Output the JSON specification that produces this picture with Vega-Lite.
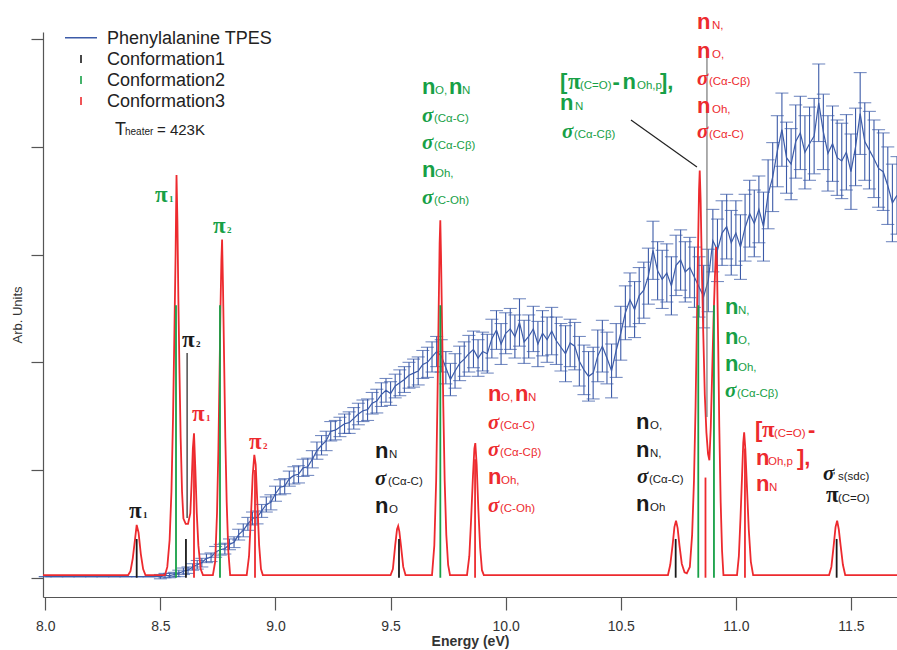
{
  "$schema": "https://vega.github.io/schema/vega-lite/v6.json",
  "width": 854,
  "height": 565,
  "autosize": {"type": "none"},
  "padding": {"left": 43, "top": 32, "right": 0, "bottom": 53},
  "background": "white",
  "config": {"view": {"stroke": null}, "font": "Liberation Sans"},
  "datasets": {
    "tpes": [
      {"E": 8.00, "I": 0.01, "err": 0}, {"E": 8.05, "I": 0.01, "err": 0}, {"E": 8.10, "I": 0.01, "err": 0},
      {"E": 8.15, "I": 0.01, "err": 0}, {"E": 8.20, "I": 0.01, "err": 0}, {"E": 8.25, "I": 0.01, "err": 0},
      {"E": 8.30, "I": 0.01, "err": 0}, {"E": 8.35, "I": 0.01, "err": 0}, {"E": 8.40, "I": 0.01, "err": 0},
      {"E": 8.45, "I": 0.01, "err": 0},
      {"E": 8.50, "I": 0.01, "err": 0.02}, {"E": 8.52, "I": 0.02, "err": 0.02}, {"E": 8.54, "I": 0.02, "err": 0.02},
      {"E": 8.56, "I": 0.03, "err": 0.02}, {"E": 8.58, "I": 0.04, "err": 0.03}, {"E": 8.60, "I": 0.06, "err": 0.03},
      {"E": 8.62, "I": 0.07, "err": 0.03}, {"E": 8.64, "I": 0.10, "err": 0.03}, {"E": 8.66, "I": 0.12, "err": 0.04},
      {"E": 8.68, "I": 0.14, "err": 0.04}, {"E": 8.70, "I": 0.18, "err": 0.04}, {"E": 8.72, "I": 0.19, "err": 0.04},
      {"E": 8.74, "I": 0.24, "err": 0.05}, {"E": 8.76, "I": 0.26, "err": 0.05}, {"E": 8.78, "I": 0.27, "err": 0.05},
      {"E": 8.80, "I": 0.31, "err": 0.05}, {"E": 8.82, "I": 0.33, "err": 0.05}, {"E": 8.84, "I": 0.40, "err": 0.05},
      {"E": 8.86, "I": 0.44, "err": 0.06}, {"E": 8.88, "I": 0.50, "err": 0.06}, {"E": 8.90, "I": 0.55, "err": 0.06},
      {"E": 8.92, "I": 0.56, "err": 0.06}, {"E": 8.94, "I": 0.62, "err": 0.06}, {"E": 8.96, "I": 0.68, "err": 0.07},
      {"E": 8.98, "I": 0.70, "err": 0.07}, {"E": 9.00, "I": 0.78, "err": 0.07}, {"E": 9.02, "I": 0.84, "err": 0.07},
      {"E": 9.04, "I": 0.85, "err": 0.07}, {"E": 9.06, "I": 0.92, "err": 0.07}, {"E": 9.08, "I": 0.95, "err": 0.08},
      {"E": 9.10, "I": 0.96, "err": 0.08}, {"E": 9.12, "I": 1.02, "err": 0.08}, {"E": 9.14, "I": 1.03, "err": 0.08},
      {"E": 9.16, "I": 1.10, "err": 0.08}, {"E": 9.18, "I": 1.18, "err": 0.08}, {"E": 9.20, "I": 1.23, "err": 0.09},
      {"E": 9.22, "I": 1.27, "err": 0.09}, {"E": 9.24, "I": 1.36, "err": 0.09}, {"E": 9.26, "I": 1.37, "err": 0.09},
      {"E": 9.28, "I": 1.40, "err": 0.09}, {"E": 9.30, "I": 1.43, "err": 0.09}, {"E": 9.32, "I": 1.44, "err": 0.10},
      {"E": 9.34, "I": 1.48, "err": 0.10}, {"E": 9.36, "I": 1.52, "err": 0.10}, {"E": 9.38, "I": 1.55, "err": 0.10},
      {"E": 9.40, "I": 1.56, "err": 0.10}, {"E": 9.42, "I": 1.62, "err": 0.10}, {"E": 9.44, "I": 1.64, "err": 0.11},
      {"E": 9.46, "I": 1.70, "err": 0.11}, {"E": 9.48, "I": 1.74, "err": 0.11}, {"E": 9.50, "I": 1.71, "err": 0.11},
      {"E": 9.52, "I": 1.78, "err": 0.11}, {"E": 9.54, "I": 1.81, "err": 0.12}, {"E": 9.56, "I": 1.84, "err": 0.12},
      {"E": 9.58, "I": 1.88, "err": 0.12}, {"E": 9.60, "I": 1.90, "err": 0.13}, {"E": 9.62, "I": 1.92, "err": 0.13},
      {"E": 9.64, "I": 1.98, "err": 0.13}, {"E": 9.66, "I": 2.00, "err": 0.14}, {"E": 9.68, "I": 2.05, "err": 0.14},
      {"E": 9.70, "I": 2.10, "err": 0.14}, {"E": 9.72, "I": 2.06, "err": 0.15}, {"E": 9.74, "I": 1.95, "err": 0.15},
      {"E": 9.76, "I": 1.84, "err": 0.15}, {"E": 9.78, "I": 1.92, "err": 0.16}, {"E": 9.80, "I": 1.99, "err": 0.16},
      {"E": 9.82, "I": 2.03, "err": 0.16}, {"E": 9.84, "I": 2.08, "err": 0.17}, {"E": 9.86, "I": 2.12, "err": 0.17},
      {"E": 9.88, "I": 2.04, "err": 0.17}, {"E": 9.90, "I": 2.10, "err": 0.18}, {"E": 9.92, "I": 2.08, "err": 0.18},
      {"E": 9.94, "I": 2.22, "err": 0.18}, {"E": 9.96, "I": 2.30, "err": 0.18}, {"E": 9.98, "I": 2.17, "err": 0.19},
      {"E": 10.00, "I": 2.27, "err": 0.19}, {"E": 10.02, "I": 2.31, "err": 0.19}, {"E": 10.04, "I": 2.24, "err": 0.20},
      {"E": 10.06, "I": 2.37, "err": 0.22}, {"E": 10.08, "I": 2.19, "err": 0.20}, {"E": 10.10, "I": 2.24, "err": 0.20},
      {"E": 10.12, "I": 2.31, "err": 0.21}, {"E": 10.14, "I": 2.17, "err": 0.21}, {"E": 10.16, "I": 2.27, "err": 0.21},
      {"E": 10.18, "I": 2.21, "err": 0.21}, {"E": 10.20, "I": 2.29, "err": 0.22}, {"E": 10.22, "I": 2.20, "err": 0.22},
      {"E": 10.24, "I": 2.14, "err": 0.22}, {"E": 10.26, "I": 2.08, "err": 0.26}, {"E": 10.28, "I": 2.18, "err": 0.22},
      {"E": 10.30, "I": 2.15, "err": 0.22}, {"E": 10.32, "I": 2.01, "err": 0.23}, {"E": 10.34, "I": 1.93, "err": 0.23},
      {"E": 10.36, "I": 1.87, "err": 0.23}, {"E": 10.38, "I": 1.90, "err": 0.24}, {"E": 10.40, "I": 2.06, "err": 0.24},
      {"E": 10.42, "I": 2.15, "err": 0.24}, {"E": 10.44, "I": 2.04, "err": 0.24}, {"E": 10.46, "I": 1.92, "err": 0.25},
      {"E": 10.48, "I": 2.11, "err": 0.25}, {"E": 10.50, "I": 2.27, "err": 0.25}, {"E": 10.52, "I": 2.46, "err": 0.25},
      {"E": 10.54, "I": 2.58, "err": 0.25}, {"E": 10.56, "I": 2.49, "err": 0.26}, {"E": 10.58, "I": 2.62, "err": 0.26},
      {"E": 10.60, "I": 2.67, "err": 0.26}, {"E": 10.62, "I": 2.80, "err": 0.26}, {"E": 10.64, "I": 3.04, "err": 0.27},
      {"E": 10.66, "I": 2.85, "err": 0.27}, {"E": 10.68, "I": 2.77, "err": 0.27}, {"E": 10.70, "I": 2.83, "err": 0.27},
      {"E": 10.72, "I": 2.71, "err": 0.27}, {"E": 10.74, "I": 2.90, "err": 0.28}, {"E": 10.76, "I": 2.95, "err": 0.28},
      {"E": 10.78, "I": 2.84, "err": 0.28}, {"E": 10.80, "I": 2.88, "err": 0.28}, {"E": 10.82, "I": 2.79, "err": 0.28},
      {"E": 10.84, "I": 2.70, "err": 0.28}, {"E": 10.86, "I": 2.61, "err": 0.29}, {"E": 10.88, "I": 2.76, "err": 0.29},
      {"E": 10.90, "I": 3.13, "err": 0.29}, {"E": 10.92, "I": 3.04, "err": 0.29}, {"E": 10.94, "I": 3.20, "err": 0.30},
      {"E": 10.96, "I": 3.26, "err": 0.30}, {"E": 10.98, "I": 3.11, "err": 0.30}, {"E": 11.00, "I": 3.20, "err": 0.30},
      {"E": 11.02, "I": 3.07, "err": 0.30}, {"E": 11.04, "I": 3.25, "err": 0.31}, {"E": 11.06, "I": 3.38, "err": 0.31},
      {"E": 11.08, "I": 3.29, "err": 0.31}, {"E": 11.10, "I": 3.42, "err": 0.31}, {"E": 11.12, "I": 3.26, "err": 0.32},
      {"E": 11.14, "I": 3.56, "err": 0.32}, {"E": 11.16, "I": 3.72, "err": 0.32}, {"E": 11.18, "I": 3.96, "err": 0.33},
      {"E": 11.20, "I": 4.16, "err": 0.34}, {"E": 11.22, "I": 3.90, "err": 0.33}, {"E": 11.24, "I": 3.84, "err": 0.33},
      {"E": 11.26, "I": 4.05, "err": 0.34}, {"E": 11.28, "I": 4.13, "err": 0.34}, {"E": 11.30, "I": 3.95, "err": 0.34},
      {"E": 11.32, "I": 4.03, "err": 0.34}, {"E": 11.34, "I": 4.10, "err": 0.35}, {"E": 11.36, "I": 4.41, "err": 0.36},
      {"E": 11.38, "I": 4.14, "err": 0.35}, {"E": 11.40, "I": 3.94, "err": 0.35}, {"E": 11.42, "I": 4.03, "err": 0.35},
      {"E": 11.44, "I": 3.90, "err": 0.35}, {"E": 11.46, "I": 3.87, "err": 0.35}, {"E": 11.48, "I": 3.95, "err": 0.35},
      {"E": 11.50, "I": 3.77, "err": 0.35}, {"E": 11.52, "I": 4.00, "err": 0.36}, {"E": 11.54, "I": 4.31, "err": 0.38},
      {"E": 11.56, "I": 4.05, "err": 0.36}, {"E": 11.58, "I": 3.97, "err": 0.36}, {"E": 11.60, "I": 3.89, "err": 0.36},
      {"E": 11.62, "I": 3.80, "err": 0.36}, {"E": 11.64, "I": 3.77, "err": 0.36}, {"E": 11.66, "I": 3.64, "err": 0.36},
      {"E": 11.68, "I": 3.48, "err": 0.36}, {"E": 11.70, "I": 3.55, "err": 0.36}
    ],
    "model": [
      {"E": 7.99, "I": 0.025}, {"E": 8.36, "I": 0.025}, {"E": 8.37, "I": 0.06}, {"E": 8.38, "I": 0.18},
      {"E": 8.39, "I": 0.36}, {"E": 8.397, "I": 0.49}, {"E": 8.405, "I": 0.42}, {"E": 8.415, "I": 0.22},
      {"E": 8.425, "I": 0.08}, {"E": 8.435, "I": 0.025}, {"E": 8.52, "I": 0.025}, {"E": 8.53, "I": 0.1},
      {"E": 8.54, "I": 0.35}, {"E": 8.548, "I": 0.8}, {"E": 8.555, "I": 1.5}, {"E": 8.561, "I": 2.3},
      {"E": 8.566, "I": 3.0}, {"E": 8.570, "I": 3.74}, {"E": 8.574, "I": 3.3}, {"E": 8.578, "I": 2.6},
      {"E": 8.583, "I": 1.9}, {"E": 8.588, "I": 1.3}, {"E": 8.594, "I": 0.8}, {"E": 8.600, "I": 0.55},
      {"E": 8.610, "I": 0.5}, {"E": 8.620, "I": 0.5}, {"E": 8.630, "I": 0.6}, {"E": 8.636, "I": 0.9},
      {"E": 8.641, "I": 1.2}, {"E": 8.646, "I": 1.34}, {"E": 8.652, "I": 1.0}, {"E": 8.658, "I": 0.6},
      {"E": 8.665, "I": 0.3}, {"E": 8.675, "I": 0.08}, {"E": 8.685, "I": 0.025}, {"E": 8.728, "I": 0.025},
      {"E": 8.738, "I": 0.15}, {"E": 8.746, "I": 0.6}, {"E": 8.752, "I": 1.2}, {"E": 8.757, "I": 1.9},
      {"E": 8.761, "I": 2.5}, {"E": 8.765, "I": 2.95}, {"E": 8.768, "I": 3.14}, {"E": 8.772, "I": 2.7},
      {"E": 8.777, "I": 2.0}, {"E": 8.782, "I": 1.3}, {"E": 8.788, "I": 0.7}, {"E": 8.795, "I": 0.25},
      {"E": 8.803, "I": 0.025}, {"E": 8.875, "I": 0.025}, {"E": 8.885, "I": 0.2}, {"E": 8.893, "I": 0.55},
      {"E": 8.901, "I": 0.95}, {"E": 8.908, "I": 1.14}, {"E": 8.914, "I": 1.05}, {"E": 8.921, "I": 0.7},
      {"E": 8.929, "I": 0.3}, {"E": 8.937, "I": 0.08}, {"E": 8.945, "I": 0.025}, {"E": 9.50, "I": 0.025},
      {"E": 9.51, "I": 0.08}, {"E": 9.52, "I": 0.3}, {"E": 9.528, "I": 0.45}, {"E": 9.533, "I": 0.48},
      {"E": 9.538, "I": 0.43}, {"E": 9.545, "I": 0.3}, {"E": 9.555, "I": 0.1}, {"E": 9.565, "I": 0.025},
      {"E": 9.68, "I": 0.025}, {"E": 9.69, "I": 0.3}, {"E": 9.698, "I": 0.9}, {"E": 9.704, "I": 1.7},
      {"E": 9.709, "I": 2.5}, {"E": 9.713, "I": 3.1}, {"E": 9.716, "I": 3.32}, {"E": 9.719, "I": 3.0},
      {"E": 9.724, "I": 2.3}, {"E": 9.729, "I": 1.6}, {"E": 9.735, "I": 0.9}, {"E": 9.742, "I": 0.4},
      {"E": 9.75, "I": 0.12}, {"E": 9.758, "I": 0.025}, {"E": 9.832, "I": 0.025}, {"E": 9.842, "I": 0.2},
      {"E": 9.85, "I": 0.55}, {"E": 9.858, "I": 0.95}, {"E": 9.864, "I": 1.2}, {"E": 9.868, "I": 1.25},
      {"E": 9.874, "I": 1.05}, {"E": 9.881, "I": 0.65}, {"E": 9.889, "I": 0.28}, {"E": 9.897, "I": 0.07},
      {"E": 9.905, "I": 0.025}, {"E": 10.705, "I": 0.025}, {"E": 10.715, "I": 0.12}, {"E": 10.725, "I": 0.3},
      {"E": 10.733, "I": 0.47}, {"E": 10.74, "I": 0.53}, {"E": 10.747, "I": 0.46}, {"E": 10.755, "I": 0.3},
      {"E": 10.765, "I": 0.13}, {"E": 10.777, "I": 0.05}, {"E": 10.787, "I": 0.04}, {"E": 10.80, "I": 0.1},
      {"E": 10.81, "I": 0.4}, {"E": 10.818, "I": 0.9}, {"E": 10.825, "I": 1.6}, {"E": 10.831, "I": 2.4},
      {"E": 10.836, "I": 3.1}, {"E": 10.84, "I": 3.6}, {"E": 10.843, "I": 3.78}, {"E": 10.847, "I": 3.5},
      {"E": 10.852, "I": 2.9}, {"E": 10.858, "I": 2.3}, {"E": 10.865, "I": 1.7}, {"E": 10.872, "I": 1.35},
      {"E": 10.879, "I": 1.15}, {"E": 10.885, "I": 1.09}, {"E": 10.891, "I": 1.4}, {"E": 10.897, "I": 1.9},
      {"E": 10.903, "I": 2.4}, {"E": 10.909, "I": 2.8}, {"E": 10.914, "I": 3.07}, {"E": 10.918, "I": 2.9},
      {"E": 10.923, "I": 2.2}, {"E": 10.928, "I": 1.4}, {"E": 10.934, "I": 0.7}, {"E": 10.94, "I": 0.25},
      {"E": 10.946, "I": 0.025}, {"E": 11.005, "I": 0.025}, {"E": 11.013, "I": 0.2}, {"E": 11.02, "I": 0.55},
      {"E": 11.027, "I": 0.95}, {"E": 11.032, "I": 1.25}, {"E": 11.036, "I": 1.35}, {"E": 11.041, "I": 1.2},
      {"E": 11.048, "I": 0.85}, {"E": 11.056, "I": 0.45}, {"E": 11.065, "I": 0.15}, {"E": 11.075, "I": 0.025},
      {"E": 11.405, "I": 0.025}, {"E": 11.415, "I": 0.1}, {"E": 11.425, "I": 0.3}, {"E": 11.433, "I": 0.47},
      {"E": 11.44, "I": 0.53}, {"E": 11.447, "I": 0.45}, {"E": 11.455, "I": 0.3}, {"E": 11.465, "I": 0.12},
      {"E": 11.475, "I": 0.025}, {"E": 11.70, "I": 0.025}
    ],
    "sticks": [
      {"E": 8.646, "I": 1.2, "conf": "c3"}, {"E": 8.911, "I": 1.0, "conf": "c3"}, {"E": 9.867, "I": 1.1, "conf": "c3"},
      {"E": 10.868, "I": 0.93, "conf": "c3"}, {"E": 11.0395, "I": 1.2, "conf": "c3"},
      {"E": 8.5678, "I": 2.53, "conf": "c2"}, {"E": 8.7589, "I": 2.53, "conf": "c2"}, {"E": 9.7161, "I": 2.53, "conf": "c2"},
      {"E": 10.8367, "I": 2.53, "conf": "c2"}, {"E": 10.9048, "I": 2.53, "conf": "c2"},
      {"E": 8.397, "I": 0.36, "conf": "c1"}, {"E": 8.611, "I": 0.36, "conf": "c1"}, {"E": 9.5365, "I": 0.36, "conf": "c1"},
      {"E": 10.7385, "I": 0.36, "conf": "c1"}, {"E": 11.4378, "I": 0.36, "conf": "c1"}
    ],
    "guides": [
      {"E": 8.616, "I": 2.087, "E2": 8.616, "I2": 0.554, "conf": "ink"},
      {"E": 10.5443, "I": 4.2497, "E2": 10.831, "I2": 3.8133, "conf": "ink"},
      {"E": 10.8744, "I": 4.9179, "E2": 10.8744, "I2": 1.4921, "conf": "grey"}
    ],
    "key": [
      {"E": 8.0856, "I": 5.0139, "E2": 8.2246, "I2": 5.0139, "conf": "tpes"},
      {"E": 8.1551, "I": 4.779, "E2": 8.1551, "I2": 4.8533, "conf": "c1"},
      {"E": 8.1551, "I": 4.584, "E2": 8.1551, "I2": 4.6583, "conf": "c2"},
      {"E": 8.1551, "I": 4.389, "E2": 8.1551, "I2": 4.4633, "conf": "c3"}
    ],
    "notes": [
      {"E": 8.3636, "I": 0.5543, "t": "π", "conf": "c1", "role": "pi"},
      {"E": 8.4244, "I": 0.5543, "t": "1", "conf": "c1", "role": "pisub"},
      {"E": 8.5938, "I": 2.142, "t": "π", "conf": "c1", "role": "pi"},
      {"E": 8.6546, "I": 2.142, "t": "2", "conf": "c1", "role": "pisub"},
      {"E": 8.4765, "I": 3.4884, "t": "π", "conf": "c2", "role": "pi"},
      {"E": 8.5373, "I": 3.4884, "t": "1", "conf": "c2", "role": "pisub"},
      {"E": 8.7285, "I": 3.2005, "t": "π", "conf": "c2", "role": "pi"},
      {"E": 8.7893, "I": 3.2005, "t": "2", "conf": "c2", "role": "pisub"},
      {"E": 8.6373, "I": 1.455, "t": "π", "conf": "c3", "role": "pi"},
      {"E": 8.6981, "I": 1.455, "t": "1", "conf": "c3", "role": "pisub"},
      {"E": 8.8849, "I": 1.195, "t": "π", "conf": "c3", "role": "pi"},
      {"E": 8.9457, "I": 1.195, "t": "2", "conf": "c3", "role": "pisub"},

      {"E": 9.4322, "I": 1.1114, "t": "n", "conf": "c1", "role": "n"},
      {"E": 9.493, "I": 1.1114, "t": "N", "conf": "c1", "role": "sub"},
      {"E": 9.4322, "I": 0.8607, "t": "σ", "conf": "c1", "role": "sigma"},
      {"E": 9.4887, "I": 0.8607, "t": "(Cα-C)", "conf": "c1", "role": "sub"},
      {"E": 9.4322, "I": 0.6007, "t": "n", "conf": "c1", "role": "n"},
      {"E": 9.493, "I": 0.6007, "t": "O", "conf": "c1", "role": "sub"},

      {"E": 9.6364, "I": 4.4911, "t": "n", "conf": "c2", "role": "n"},
      {"E": 9.6928, "I": 4.4911, "t": "O,", "conf": "c2", "role": "sub"},
      {"E": 9.7537, "I": 4.4911, "t": "n", "conf": "c2", "role": "n"},
      {"E": 9.8102, "I": 4.4911, "t": "N", "conf": "c2", "role": "sub"},
      {"E": 9.6364, "I": 4.2312, "t": "σ", "conf": "c2", "role": "sigma"},
      {"E": 9.6885, "I": 4.2312, "t": "(Cα-C)", "conf": "c2", "role": "sub"},
      {"E": 9.6364, "I": 3.9805, "t": "σ", "conf": "c2", "role": "sigma"},
      {"E": 9.6885, "I": 3.9805, "t": "(Cα-Cβ)", "conf": "c2", "role": "sub"},
      {"E": 9.6364, "I": 3.7205, "t": "n", "conf": "c2", "role": "n"},
      {"E": 9.6928, "I": 3.7205, "t": "Oh,", "conf": "c2", "role": "sub"},
      {"E": 9.6364, "I": 3.4698, "t": "σ", "conf": "c2", "role": "sigma"},
      {"E": 9.6885, "I": 3.4698, "t": "(C-Oh)", "conf": "c2", "role": "sub"},

      {"E": 9.9231, "I": 1.6407, "t": "n", "conf": "c3", "role": "n"},
      {"E": 9.9796, "I": 1.6407, "t": "O,", "conf": "c3", "role": "sub"},
      {"E": 10.0404, "I": 1.6407, "t": "n", "conf": "c3", "role": "n"},
      {"E": 10.0968, "I": 1.6407, "t": "N", "conf": "c3", "role": "sub"},
      {"E": 9.9231, "I": 1.3807, "t": "σ", "conf": "c3", "role": "sigma"},
      {"E": 9.9752, "I": 1.3807, "t": "(Cα-C)", "conf": "c3", "role": "sub"},
      {"E": 9.9231, "I": 1.13, "t": "σ", "conf": "c3", "role": "sigma"},
      {"E": 9.9752, "I": 1.13, "t": "(Cα-Cβ)", "conf": "c3", "role": "sub"},
      {"E": 9.9231, "I": 0.87, "t": "n", "conf": "c3", "role": "n"},
      {"E": 9.9796, "I": 0.87, "t": "Oh,", "conf": "c3", "role": "sub"},
      {"E": 9.9231, "I": 0.61, "t": "σ", "conf": "c3", "role": "sigma"},
      {"E": 9.9752, "I": 0.61, "t": "(C-Oh)", "conf": "c3", "role": "sub"},

      {"E": 10.2358, "I": 4.5376, "t": "[", "conf": "c2", "role": "n"},
      {"E": 10.2706, "I": 4.5376, "t": "π", "conf": "c2", "role": "pi"},
      {"E": 10.3228, "I": 4.5376, "t": "(C=O)", "conf": "c2", "role": "sub"},
      {"E": 10.4639, "I": 4.5376, "t": "-", "conf": "c2", "role": "n"},
      {"E": 10.5078, "I": 4.5376, "t": "n", "conf": "c2", "role": "n"},
      {"E": 10.5704, "I": 4.5376, "t": "Oh,p", "conf": "c2", "role": "sub"},
      {"E": 10.6703, "I": 4.5376, "t": "],", "conf": "c2", "role": "n"},
      {"E": 10.2358, "I": 4.3426, "t": "n", "conf": "c2", "role": "n"},
      {"E": 10.3011, "I": 4.3426, "t": "N", "conf": "c2", "role": "sub"},
      {"E": 10.2446, "I": 4.0826, "t": "σ", "conf": "c2", "role": "sigma"},
      {"E": 10.2967, "I": 4.0826, "t": "(Cα-Cβ)", "conf": "c2", "role": "sub"},

      {"E": 10.831, "I": 5.0947, "t": "n", "conf": "c3", "role": "n"},
      {"E": 10.8961, "I": 5.0947, "t": "N,", "conf": "c3", "role": "sub"},
      {"E": 10.831, "I": 4.8254, "t": "n", "conf": "c3", "role": "n"},
      {"E": 10.8961, "I": 4.8254, "t": "O,", "conf": "c3", "role": "sub"},
      {"E": 10.831, "I": 4.5747, "t": "σ", "conf": "c3", "role": "sigma"},
      {"E": 10.8831, "I": 4.5747, "t": "(Cα-Cβ)", "conf": "c3", "role": "sub"},
      {"E": 10.831, "I": 4.3147, "t": "n", "conf": "c3", "role": "n"},
      {"E": 10.8961, "I": 4.3147, "t": "Oh,", "conf": "c3", "role": "sub"},
      {"E": 10.831, "I": 4.0826, "t": "σ", "conf": "c3", "role": "sigma"},
      {"E": 10.8831, "I": 4.0826, "t": "(Cα-C)", "conf": "c3", "role": "sub"},

      {"E": 10.9526, "I": 2.4485, "t": "n", "conf": "c2", "role": "n"},
      {"E": 11.0091, "I": 2.4485, "t": "N,", "conf": "c2", "role": "sub"},
      {"E": 10.9526, "I": 2.1699, "t": "n", "conf": "c2", "role": "n"},
      {"E": 11.0091, "I": 2.1699, "t": "O,", "conf": "c2", "role": "sub"},
      {"E": 10.9526, "I": 1.9192, "t": "n", "conf": "c2", "role": "n"},
      {"E": 11.0091, "I": 1.9192, "t": "Oh,", "conf": "c2", "role": "sub"},
      {"E": 10.9526, "I": 1.6778, "t": "σ", "conf": "c2", "role": "sigma"},
      {"E": 11.0047, "I": 1.6778, "t": "(Cα-Cβ)", "conf": "c2", "role": "sub"},

      {"E": 10.566, "I": 1.3807, "t": "n", "conf": "c1", "role": "n"},
      {"E": 10.6268, "I": 1.3807, "t": "O,", "conf": "c1", "role": "sub"},
      {"E": 10.566, "I": 1.1207, "t": "n", "conf": "c1", "role": "n"},
      {"E": 10.6268, "I": 1.1207, "t": "N,", "conf": "c1", "role": "sub"},
      {"E": 10.5703, "I": 0.8793, "t": "σ", "conf": "c1", "role": "sigma"},
      {"E": 10.6224, "I": 0.8793, "t": "(Cα-C)", "conf": "c1", "role": "sub"},
      {"E": 10.566, "I": 0.6193, "t": "n", "conf": "c1", "role": "n"},
      {"E": 10.6268, "I": 0.6193, "t": "Oh", "conf": "c1", "role": "sub"},

      {"E": 11.0829, "I": 1.3064, "t": "[", "conf": "c3", "role": "n"},
      {"E": 11.1133, "I": 1.3064, "t": "π", "conf": "c3", "role": "pi"},
      {"E": 11.1655, "I": 1.3064, "t": "(C=O)", "conf": "c3", "role": "sub"},
      {"E": 11.3131, "I": 1.3064, "t": "-", "conf": "c3", "role": "n"},
      {"E": 11.0873, "I": 1.0464, "t": "n", "conf": "c3", "role": "n"},
      {"E": 11.1394, "I": 1.0464, "t": "Oh,p", "conf": "c3", "role": "sub"},
      {"E": 11.2654, "I": 1.0464, "t": "],", "conf": "c3", "role": "n"},
      {"E": 11.0873, "I": 0.805, "t": "n", "conf": "c3", "role": "n"},
      {"E": 11.1437, "I": 0.805, "t": "N", "conf": "c3", "role": "sub"},

      {"E": 11.3783, "I": 0.9071, "t": "σ", "conf": "c1", "role": "sigma"},
      {"E": 11.4218, "I": 0.9071, "t": "'", "conf": "c1", "role": "sub"},
      {"E": 11.4435, "I": 0.9071, "t": "s(sdc)", "conf": "c1", "role": "sub"},
      {"E": 11.3914, "I": 0.7029, "t": "π", "conf": "c1", "role": "pi"},
      {"E": 11.4435, "I": 0.7029, "t": "(C=O)", "conf": "c1", "role": "sub"},

      {"E": 8.268, "I": 4.9554, "t": "Phenylalanine TPES", "conf": "ink", "role": "leg"},
      {"E": 8.268, "I": 4.7604, "t": "Conformation1", "conf": "ink", "role": "leg"},
      {"E": 8.268, "I": 4.5654, "t": "Conformation2", "conf": "ink", "role": "leg"},
      {"E": 8.268, "I": 4.3705, "t": "Conformation3", "conf": "ink", "role": "leg"},
      {"E": 8.3028, "I": 4.1105, "t": "T", "conf": "ink", "role": "leg"},
      {"E": 8.3462, "I": 4.1105, "t": "heater", "conf": "ink", "role": "heater"},
      {"E": 8.4852, "I": 4.1105, "t": "= 423K", "conf": "ink", "role": "temp"}
    ]
  },
  "encoding": {
    "x": {
      "field": "E", "type": "quantitative",
      "scale": {"domain": [7.99, 11.7], "nice": false, "zero": false},
      "axis": {
        "title": "Energy (eV)", "values": [8, 8.5, 9, 9.5, 10, 10.5, 11, 11.5], "format": ".1f",
        "grid": false, "labelFlush": false, "labelOverlap": false,
        "tickSize": 13, "tickWidth": 1.2, "tickColor": "#555", "domainColor": "#555", "domainWidth": 1.2,
        "labelFont": "Liberation Sans", "labelFontSize": 14, "labelColor": "#333", "labelPadding": 9,
        "titleFont": "Liberation Sans", "titleFontSize": 14, "titleFontWeight": "bold", "titleColor": "#333", "titlePadding": 1
      }
    },
    "y": {
      "field": "I", "type": "quantitative",
      "scale": {"domain": [-0.179, 5.067], "nice": false, "zero": false},
      "axis": {
        "title": "Arb. Units", "values": [0, 1, 2, 3, 4, 5], "labels": false, "grid": false,
        "tickSize": 12, "tickWidth": 1.2, "tickColor": "#555", "domainColor": "#555", "domainWidth": 1.2,
        "titleFont": "Liberation Sans", "titleFontSize": 13, "titleFontWeight": "normal", "titleColor": "#333", "titlePadding": 6
      }
    },
    "color": {
      "field": "conf", "type": "nominal", "legend": null,
      "scale": {
        "domain": ["c1", "c2", "c3", "tpes", "ink", "grey"],
        "range": ["#1a1a1a", "#17a046", "#ed2a2e", "#3c5ba8", "#222222", "#777777"]
      }
    }
  },
  "layer": [
    {
      "data": {"values": [{}]},
      "mark": {"type": "rule", "color": "#555", "strokeWidth": 1.2},
      "encoding": {"x": {"datum": 7.99}, "x2": {"datum": 11.7}, "y": {"datum": 0}, "color": {"value": "#555"}}
    },
    {
      "data": {"name": "tpes"},
      "mark": {"type": "errorbar", "ticks": {"size": 13}, "thickness": 1.1, "color": "#3c5ba8"},
      "encoding": {"yError": {"field": "err"}, "color": {"value": "#3c5ba8"}}
    },
    {
      "data": {"name": "tpes"},
      "mark": {"type": "line", "color": "#3c5ba8", "strokeWidth": 1.2},
      "encoding": {"color": {"value": "#3c5ba8"}}
    },
    {
      "data": {"name": "model"},
      "mark": {"type": "line", "color": "#ed2a2e", "strokeWidth": 1.8},
      "encoding": {"color": {"value": "#ed2a2e"}}
    },
    {
      "data": {"name": "sticks"},
      "mark": {"type": "rule", "strokeWidth": 1.8},
      "encoding": {"y2": {"datum": 0}}
    },
    {
      "data": {"name": "guides"},
      "mark": {"type": "rule", "strokeWidth": 1.2},
      "encoding": {"x2": {"field": "E2"}, "y2": {"field": "I2"}}
    },
    {
      "data": {"name": "key"},
      "mark": {"type": "rule", "strokeWidth": 1.6},
      "encoding": {"x2": {"field": "E2"}, "y2": {"field": "I2"}}
    },
    {
      "data": {"name": "notes"},
      "transform": [{"filter": "datum.role === 'n'"}],
      "mark": {"type": "text", "align": "left", "baseline": "alphabetic", "font": "Liberation Sans", "fontSize": 22, "fontWeight": "bold"},
      "encoding": {"text": {"field": "t"}}
    },
    {
      "data": {"name": "notes"},
      "transform": [{"filter": "datum.role === 'sub'"}],
      "mark": {"type": "text", "align": "left", "baseline": "alphabetic", "font": "Liberation Sans", "fontSize": 11.5},
      "encoding": {"text": {"field": "t"}}
    },
    {
      "data": {"name": "notes"},
      "transform": [{"filter": "datum.role === 'sigma'"}],
      "mark": {"type": "text", "align": "left", "baseline": "alphabetic", "font": "Liberation Serif", "fontSize": 21, "fontStyle": "italic", "fontWeight": "bold"},
      "encoding": {"text": {"field": "t"}}
    },
    {
      "data": {"name": "notes"},
      "transform": [{"filter": "datum.role === 'pi'"}],
      "mark": {"type": "text", "align": "left", "baseline": "alphabetic", "font": "Liberation Serif", "fontSize": 23, "fontWeight": "bold"},
      "encoding": {"text": {"field": "t"}}
    },
    {
      "data": {"name": "notes"},
      "transform": [{"filter": "datum.role === 'pisub'"}],
      "mark": {"type": "text", "align": "left", "baseline": "alphabetic", "font": "Liberation Serif", "fontSize": 9, "fontWeight": "bold"},
      "encoding": {"text": {"field": "t"}}
    },
    {
      "data": {"name": "notes"},
      "transform": [{"filter": "datum.role === 'leg'"}],
      "mark": {"type": "text", "align": "left", "baseline": "alphabetic", "font": "Liberation Sans", "fontSize": 18},
      "encoding": {"text": {"field": "t"}}
    },
    {
      "data": {"name": "notes"},
      "transform": [{"filter": "datum.role === 'heater'"}],
      "mark": {"type": "text", "align": "left", "baseline": "alphabetic", "font": "Liberation Sans", "fontSize": 10},
      "encoding": {"text": {"field": "t"}}
    },
    {
      "data": {"name": "notes"},
      "transform": [{"filter": "datum.role === 'temp'"}],
      "mark": {"type": "text", "align": "left", "baseline": "alphabetic", "font": "Liberation Sans", "fontSize": 15},
      "encoding": {"text": {"field": "t"}}
    }
  ]
}
